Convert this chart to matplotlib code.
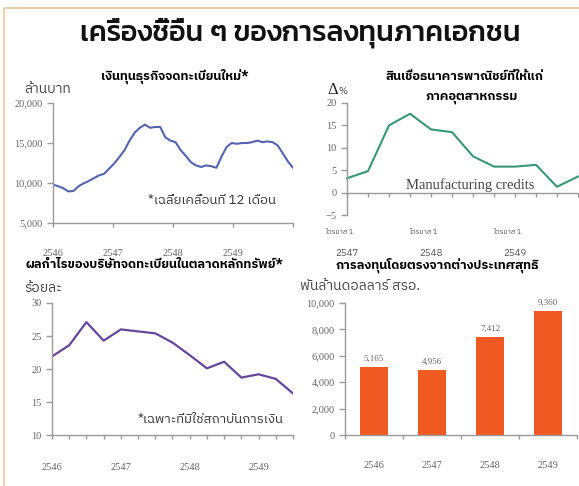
import matplotlib
matplotlib.use("Agg")
import matplotlib.pyplot as plt
import numpy as np
from matplotlib.lines import Line2D
from matplotlib.ticker import FuncFormatter

# registered capital, 12-month moving average (million baht), monthly 2546-2549
capital = [9800, 9600, 9350, 8950, 9000, 9600, 9950, 10250, 10600, 10950, 11150, 11800,
           12450, 13250, 14100, 15300, 16300, 16900, 17300, 16900, 17000, 17000, 15700, 15300,
           15100, 14100, 13400, 12600, 12200, 12000, 12200, 12100, 11900, 13300, 14500, 15000,
           14900, 15000, 15000, 15100, 15300, 15100, 15200, 15100, 14700, 13700, 12700, 11900]
capital_years = ["2546", "2547", "2548", "2549"]

# manufacturing credit growth (%), quarterly Q1/2547 - Q4/2549
credit = [3.2, 4.8, 15.0, 17.6, 14.1, 13.5, 8.1, 5.8, 5.8, 6.2, 1.3, 3.6]
credit_years = ["2547", "2548", "2549"]

# listed company profit margin (%), quarterly Q1/2546 - Q3/2549
profit = [21.9, 23.6, 27.1, 24.3, 26.0, 25.7, 25.4, 24.0, 22.1, 20.1, 21.1, 18.7, 19.2, 18.5, 16.3]
profit_years = ["2546", "2547", "2548", "2549"]

# net foreign direct investment (million USD)
fdi_years = ["2546", "2547", "2548", "2549"]
fdi = [5165, 4956, 7412, 9360]

W, H = 579, 486
THAI = ["IBM Plex Sans Thai", "DejaVu Sans"]
HEAD = ["Kanit", "DejaVu Sans"]
SERIF = ["Liberation Serif", "DejaVu Serif"]
AXC = "#9a9a9a"
TXC = "#666666"

fig = plt.figure(figsize=(W / 100, H / 100), dpi=100)
fig.patch.set_facecolor("white")


def add_ax(x0, y0, x1, y1):
    return fig.add_axes([x0 / W, 1 - y1 / H, (x1 - x0) / W, (y1 - y0) / H])


def ftext(x, y, s, **kw):
    fig.text(x / W, 1 - y / H, s, **kw)


def style(ax):
    for side in ("top", "right"):
        ax.spines[side].set_visible(False)
    for side in ("left", "bottom"):
        ax.spines[side].set_color(AXC)
        ax.spines[side].set_linewidth(1.0)
    ax.tick_params(colors=AXC, length=4, width=1.0, labelcolor=TXC, labelsize=7.5)
    for lab in ax.get_yticklabels() + ax.get_xticklabels():
        lab.set_family(SERIF)
    ax.set_facecolor("none")


thousands = FuncFormatter(lambda v, p: f"{v:,.0f}")

# frame
fig.add_artist(Line2D([4 / W, 4 / W, 1], [0, 1 - 8 / H, 1 - 8 / H],
                      transform=fig.transFigure, color="#e6cba8", lw=1.3))

ftext(300, 33, "เครื่องชี้อื่น ๆ ของการลงทุนภาคเอกชน", family=HEAD, fontsize=20.5,
      fontweight="medium", ha="center", va="center", color="#111111")

# --- registered capital
ax1 = add_ax(53, 103, 293, 223)
ax1.plot(np.arange(len(capital)), capital, color="#5563ad", lw=1.5)
ax1.set_xlim(0, len(capital) - 1)
ax1.set_ylim(5000, 20000)
ax1.set_yticks([5000, 10000, 15000, 20000])
ax1.yaxis.set_major_formatter(thousands)
ax1.set_xticks(np.linspace(0, len(capital) - 1, 5))
ax1.set_xticklabels(capital_years + [""])
style(ax1)
ax1.tick_params(axis="x", length=3, pad=16)
ftext(175, 76, "เงินทุนธุรกิจจดทะเบียนใหม่*", family=THAI, fontsize=9.2, fontweight="bold",
      ha="center", va="center")
ftext(24, 89, "ล้านบาท", family=THAI, fontsize=10, ha="left", va="center", color="#444444")
ftext(148, 200, "*เฉลี่ยเคลื่อนที่ 12 เดือน", family=THAI, fontsize=9.5, ha="left",
      va="center", color="#333333")

# --- manufacturing credits
ax2 = add_ax(347, 103, 578, 215)
ax2.plot(np.arange(len(credit)), credit, color="#3a9676", lw=1.5, clip_on=False)
ax2.set_xlim(0, len(credit) - 1)
ax2.set_ylim(-5, 20)
ax2.set_yticks([-5, 0, 5, 10, 15, 20])
ax2.set_xticks(np.arange(len(credit)))
ax2.set_xticklabels([])
ax2.spines["bottom"].set_position(("data", 0))
style(ax2)
ax2.tick_params(axis="x", length=3)
for i, yr in enumerate(credit_years):
    xpix = 347 + (578 - 347) * (4 * i) / (len(credit) - 1)
    ftext(xpix - 8, 232, "ไตรมาส 1", family=THAI, fontsize=5, ha="center", va="center",
          color="#555555")
    ftext(xpix, 253, yr, family=THAI, fontsize=7, ha="center", va="center", color="#555555")
ftext(465, 77, "สินเชื่อธนาคารพาณิชย์ที่ให้แก่", family=THAI, fontsize=9.2, fontweight="bold",
      ha="center", va="center")
ftext(472, 98, "ภาคอุตสาหกรรม", family=THAI, fontsize=9.2, fontweight="bold",
      ha="center", va="center")
ftext(327, 90, "Δ", family=SERIF, fontsize=12, ha="left", va="center", color="#222222")
ftext(338, 92, "%", family=THAI, fontsize=7, ha="left", va="center", color="#444444")
ftext(406, 185, "Manufacturing credits", family=SERIF, fontsize=10.5, ha="left",
      va="center", color="#444444")

# --- listed company profits
ax3 = add_ax(52, 303, 293, 435)
ax3.plot(np.arange(len(profit)), profit, color="#65479a", lw=1.6)
ax3.set_xlim(0, len(profit) - 1)
ax3.set_ylim(10, 30)
ax3.set_yticks([10, 15, 20, 25, 30])
ax3.set_xticks(np.arange(len(profit)))
ax3.set_xticklabels([profit_years[i // 4] if i % 4 == 0 else "" for i in range(len(profit))])
style(ax3)
ax3.tick_params(axis="x", length=3, pad=17)
ftext(25, 265, "ผลกำไรของบริษัทจดทะเบียนในตลาดหลักทรัพย์*", family=THAI, fontsize=9.2,
      fontweight="bold", ha="left", va="center")
ftext(24, 288, "ร้อยละ", family=THAI, fontsize=10, ha="left", va="center", color="#444444")
ftext(138, 419, "*เฉพาะที่มิใช่สถาบันการเงิน", family=THAI, fontsize=9.5, ha="left",
      va="center", color="#333333")

# --- net FDI
ax4 = add_ax(345, 303, 577, 435)
bars = ax4.bar(np.arange(len(fdi)), fdi, width=0.47, color="#ef5a22")
ax4.bar_label(bars, labels=[f"{v:,}" for v in fdi], padding=3, fontsize=6.5,
              family=SERIF, color=TXC)
ax4.set_xlim(-0.5, len(fdi) - 0.5)
ax4.set_ylim(0, 10000)
ax4.set_yticks(np.arange(0, 10001, 2000))
ax4.yaxis.set_major_formatter(thousands)
ax4.set_xticks(np.arange(len(fdi) + 1) - 0.5)
ax4.set_xticklabels([])
ax4.set_xticks(np.arange(len(fdi)), minor=True)
ax4.set_xticklabels(fdi_years, minor=True)
style(ax4)
ax4.tick_params(axis="x", length=3)
ax4.tick_params(axis="x", which="minor", length=0, pad=19, labelsize=7.5, labelcolor=TXC)
for lab in ax4.get_xticklabels(minor=True):
    lab.set_family(SERIF)
ftext(437, 265, "การลงทุนโดยตรงจากต่างประเทศสุทธิ", family=THAI, fontsize=9.2,
      fontweight="bold", ha="center", va="center")
ftext(300, 286, "พันล้านดอลลาร์ สรอ.", family=THAI, fontsize=10, ha="left", va="center",
      color="#444444")

fig.savefig("out.png", dpi=100)
